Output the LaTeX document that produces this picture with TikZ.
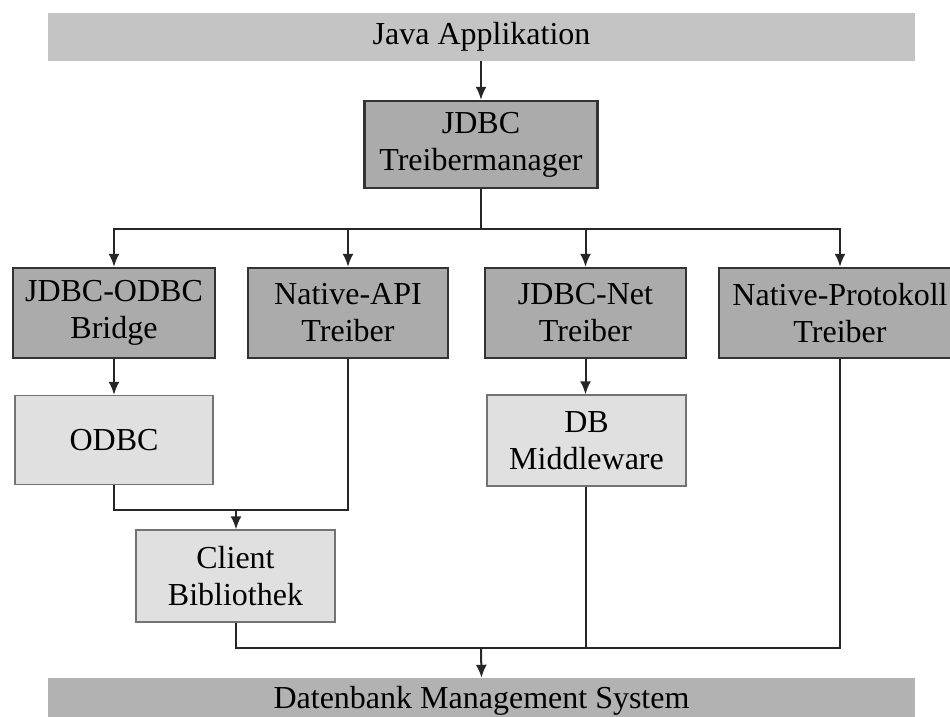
\documentclass[tikz,border=0pt]{standalone}
\usepackage{fontspec}
\setmainfont{Liberation Serif}
\usepackage{tikz}
\usetikzlibrary{arrows.meta}
\newcommand{\figureunit}{1pt}
\tikzset{
	bar/.style={fill=black!23, minimum width=867, minimum height=48, inner sep=0pt},
	darkbox/.style={fill=black!33, draw=black!80, line width=2.4pt, align=center, inner sep=0pt},
	lightbox/.style={fill=black!12, draw=black!55, line width=1.4pt, align=center, inner sep=0pt},
	link/.style={draw=black!85, line width=2pt},
	linkarrow/.style={link, -{Latex[length=13pt,width=11pt]}}
}

\begin{document}
\begin{tikzpicture}[x=\figureunit,y=-\figureunit,font=\fontsize{32}{37}\selectfont]
	\useasboundingbox (0,0) rectangle (950,717);
	\node [bar] (java) at (481.5,37) {Java Applikation};
	\node [bar, fill=black!30, minimum height=46] (dbms) at (481.5,701) {Datenbank Management System};

	\node [darkbox, minimum width=233, minimum height=87] (manager) at (481,144.5) {JDBC\\Treibermanager};
	\node [darkbox, minimum width=202, minimum height=90] (bridge) at (114,313) {JDBC-ODBC\\Bridge};
	\node [darkbox, minimum width=200, minimum height=90] (nativeapi) at (348,313) {Native-API\\Treiber};
	\node [darkbox, minimum width=201, minimum height=90] (jdbcnet) at (585.5,313) {JDBC-Net\\Treiber};
	\node [darkbox, minimum width=242, minimum height=90] (nativeprot) at (840,313) {Native-Protokoll\\Treiber};
	\node [lightbox, minimum width=198, minimum height=89] (odbc) at (114,440) {ODBC};
	\node [lightbox, minimum width=199, minimum height=91] (middleware) at (586.5,440.5) {DB\\Middleware};
	\node [lightbox, minimum width=199, minimum height=92] (client) at (235.5,576) {Client\\Bibliothek};

	\coordinate (split) at (481,229);
	\coordinate (clientjoin) at (236,510);
	\coordinate (dbmsjoin) at (481,648);

	\draw [linkarrow] (java.south -| manager.north) -- (manager.north);
	\draw [link] (manager.south) -- (split);
	\draw [linkarrow] (split) -| (bridge.north);
	\draw [linkarrow] (split) -| (nativeapi.north);
	\draw [linkarrow] (split) -| (jdbcnet.north);
	\draw [linkarrow] (split) -| (nativeprot.north);
	\draw [linkarrow] (bridge.south) -- (odbc.north);
	\draw [linkarrow] (jdbcnet.south) -- (jdbcnet.south |- middleware.north);
	% client library
	\draw [link] (odbc.south) |- (clientjoin);
	\draw [link] (nativeapi.south) |- (clientjoin);
	\draw [linkarrow] (clientjoin) -- (clientjoin |- client.north);
	% database
	\draw [link] (client.south) |- (dbmsjoin);
	\draw [link] (middleware.south -| jdbcnet.south) |- (dbmsjoin);
	\draw [link] (nativeprot.south) |- (dbmsjoin);
	\draw [linkarrow] (dbmsjoin) -- (dbms.north);
\end{tikzpicture}
\end{document}
